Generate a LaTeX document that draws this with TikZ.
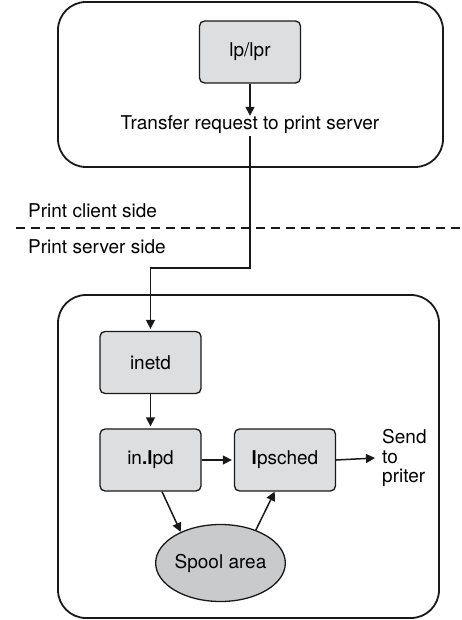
\documentclass[tikz,border=0pt]{standalone}
\usepackage{fontspec}
\setmainfont{TeX Gyre Heros}
\usetikzlibrary{arrows.meta,shapes.geometric,calc}
\definecolor{boxgray}{RGB}{221,222,223}
\definecolor{ellgray}{RGB}{201,202,203}
\begin{document}
\begin{tikzpicture}[x=1pt,y=-1pt,
  outer/.style={draw=black!90,line width=1.8pt,rounded corners=28pt},
  procbox/.style={draw=black!90,fill=boxgray,line width=1.3pt,rounded corners=5pt,
    minimum width=101pt,minimum height=62pt,inner sep=0pt,font=\fontsize{19}{20}\selectfont},
  spool/.style={ellipse,draw=black!90,fill=ellgray,line width=1.3pt,
    minimum width=124pt,minimum height=77pt,inner sep=0pt,font=\fontsize{19}{20}\selectfont},
  lbl/.style={inner sep=0pt,font=\fontsize{19}{20}\selectfont},
  conn/.style={line width=1.5pt,draw=black!90},
  arr/.style={conn,-{Triangle[length=9pt,width=9pt]}},
  divider/.style={line width=1.8pt,draw=black!90,dash pattern=on 9pt off 6pt}]
\useasboundingbox (0,0) rectangle (462,620);
% outer frames
\draw[outer] (58,2) rectangle (443,167);
\draw[outer] (58,295) rectangle (439,618);
% client side
\node[procbox] (lp) at (250,52) {lp/lpr};
\node[lbl] (transfer) at (250,125) {Transfer request to print server};
\draw[arr] (lp.south) -- (transfer.north);
% divider
\node[lbl,anchor=west] (client) at (28,211) {Print client side};
\node[lbl,anchor=west] (server) at (28,247) {Print server side};
\coordinate (dl) at (16,228);
\coordinate (dr) at (462,228);
\draw[divider] (dl) -- (dr);
% server side
\node[procbox] (inetd) at (150.5,362.5) {inetd};
\node[procbox] (inlpd) at (150.5,460) {in\textbf{.l}pd};
\node[procbox] (lpsched) at (285,460) {\textbf{l}psched};
\node[spool] (spool) at (220.5,563) {Spool area};
\node[lbl,anchor=west,align=left,font=\fontsize{19}{19.5}\selectfont] (send) at (382,458) {Send\\to\\priter};
\coordinate (bend1) at (250,268);
\coordinate (bend2) at (150.5,268);
\draw[arr,shorten >=2pt] ($(transfer.south)+(0,2)$) -- (bend1) -- (bend2) -- (inetd.north);
\draw[arr,shorten >=2pt] (inetd.south) -- (inlpd.north);
\draw[arr,shorten >=2pt] (inlpd.east) -- (lpsched.west);
\draw[arr] (lpsched.east) -- ($(send.west)+(-7,0)$);
\draw[arr] (inlpd.-70.5) -- (spool.142.6);
\draw[arr] (spool.43.7) -- (lpsched.-108.4);
\end{tikzpicture}
\end{document}
